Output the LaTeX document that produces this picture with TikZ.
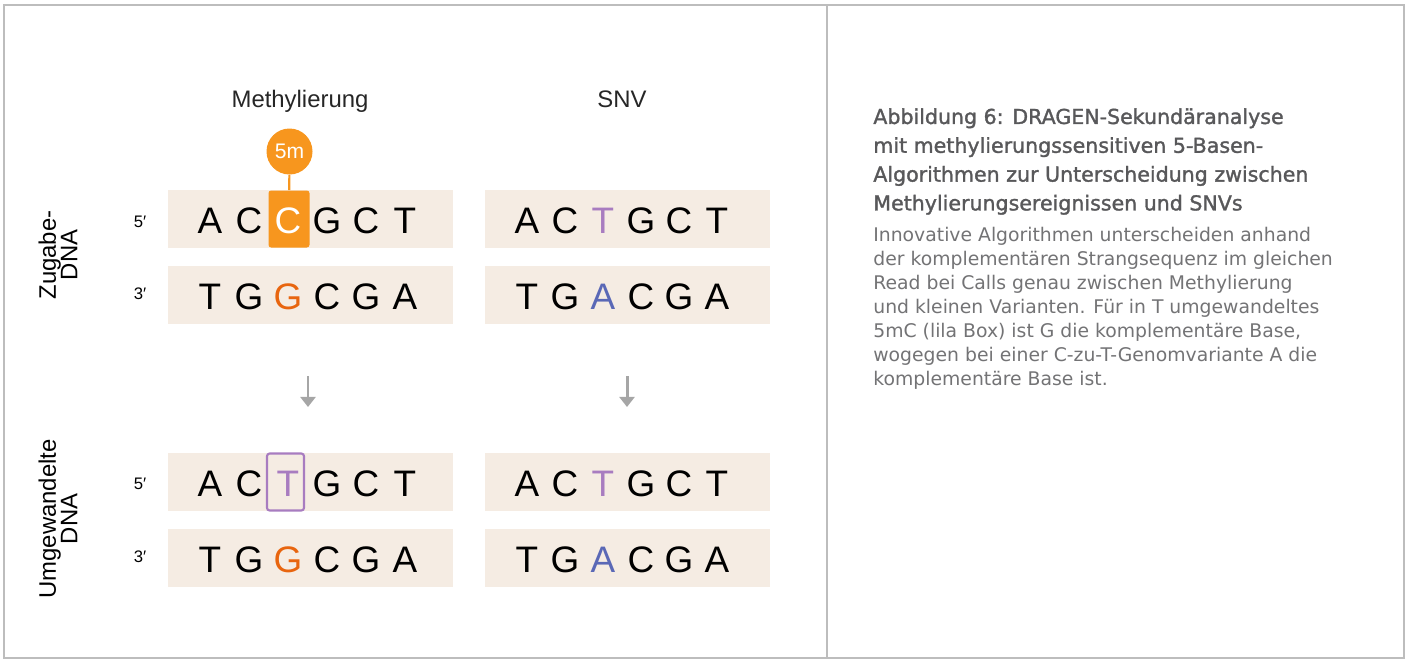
\documentclass[tikz,border=0pt]{standalone}
\usepackage{fontspec}
\setmainfont{Liberation Sans}
\newfontfamily\capfont{DejaVu Sans}[FakeBold=1.5]
\newfontfamily\descfont{DejaVu Sans}
\usetikzlibrary{calc,arrows.meta}

\definecolor{boxbg}{HTML}{F5ECE3}
\definecolor{methorange}{HTML}{F7961E}
\definecolor{darkorange}{HTML}{E8650F}
\definecolor{lila}{HTML}{A87CC0}
\definecolor{snvblue}{HTML}{5A68B6}
\definecolor{framegray}{HTML}{BDBDBD}
\definecolor{arrowgray}{HTML}{A6A6A6}
\definecolor{capgray}{HTML}{58585A}
\definecolor{descgray}{HTML}{737375}

\def\px{0.02cm}  % one pixel of the reference

\begin{document}
\begin{tikzpicture}[x=0.02cm,y=-0.02cm,
    row/.style={fill=boxbg,minimum width=285*\px,minimum height=58*\px,inner sep=0},
    nuc/.style={anchor=base,inner sep=0,font=\fontsize{21}{21}\selectfont},
    head/.style={anchor=base,inner sep=0,font=\fontsize{13.6}{13.6}\selectfont,text=black!85},
    prime/.style={inner sep=0,font=\fontsize{9.5}{9.5}\selectfont},
    side/.style={rotate=90,align=center,inner sep=0,font=\fontsize{13.6}{12.2}\selectfont},
    down/.style={-{Triangle[width=8.5pt,length=5.7pt]},line width=1.7pt,draw=arrowgray}]
  \useasboundingbox (0,0) rectangle (1410,660);

  % Frame and divider
  \draw [framegray,line width=1pt] (4,5) rectangle (1404,658);
  \draw [framegray,line width=1pt] (827,5) -- (827,658);

  % Column heads
  \node (HMeth) at (300,107) [head] {Methylierung};
  \node (HSnv) at (622,107) [head] {SNV};

  % Strand boxes
  \node (Meth5) at (310.5,219) [row] {};
  \node (Meth3) at (310.5,295) [row] {};
  \node (Snv5) at (627.5,219) [row] {};
  \node (Snv3) at (627.5,295) [row] {};
  \node (UMeth5) at (310.5,482) [row] {};
  \node (UMeth3) at (310.5,558) [row] {};
  \node (USnv5) at (627.5,482) [row] {};
  \node (USnv3) at (627.5,558) [row] {};

  % 5m marker on the methylated C
  \node (HlC) at (289,219) [fill=methorange,rounded corners=1.5pt,minimum width=41*\px,minimum height=57*\px,inner sep=0] {};
  \node (Mark) at (289.5,151.5) [circle,fill=methorange,minimum size=46*\px,inner sep=0,text=white,font=\fontsize{12}{12}\selectfont] {5m};
  \draw [methorange,line width=1.2pt] (Mark) -- (HlC);

  % converted T
  \node (HlT) at (285.5,482) [draw=lila,line width=1.2pt,rounded corners=1.5pt,minimum width=37*\px,minimum height=57*\px,inner sep=0] {};

  % Bases
  \foreach \l/\col [count=\i from 0] in {A/black,C/black,C/white,G/black,C/black,T/black}
    \node (Meth5b\i) at ($(Meth5)+(-100.5+39*\i,14)$) [nuc,text=\col] {\l};
  \foreach \l/\col [count=\i from 0] in {T/black,G/black,G/darkorange,C/black,G/black,A/black}
    \node (Meth3b\i) at ($(Meth3)+(-100.5+39*\i,14)$) [nuc,text=\col] {\l};
  \foreach \l/\col [count=\i from 0] in {A/black,C/black,T/lila,G/black,C/black,T/black}
    \node (Snv5b\i) at ($(Snv5)+(-100.5+38*\i,14)$) [nuc,text=\col] {\l};
  \foreach \l/\col [count=\i from 0] in {T/black,G/black,A/snvblue,C/black,G/black,A/black}
    \node (Snv3b\i) at ($(Snv3)+(-100.5+38*\i,14)$) [nuc,text=\col] {\l};
  \foreach \l/\col [count=\i from 0] in {A/black,C/black,T/lila,G/black,C/black,T/black}
    \node (UMeth5b\i) at ($(UMeth5)+(-100.5+39*\i,14)$) [nuc,text=\col] {\l};
  \foreach \l/\col [count=\i from 0] in {T/black,G/black,G/darkorange,C/black,G/black,A/black}
    \node (UMeth3b\i) at ($(UMeth3)+(-100.5+39*\i,14)$) [nuc,text=\col] {\l};
  \foreach \l/\col [count=\i from 0] in {A/black,C/black,T/lila,G/black,C/black,T/black}
    \node (USnv5b\i) at ($(USnv5)+(-100.5+38*\i,14)$) [nuc,text=\col] {\l};
  \foreach \l/\col [count=\i from 0] in {T/black,G/black,A/snvblue,C/black,G/black,A/black}
    \node (USnv3b\i) at ($(USnv3)+(-100.5+38*\i,14)$) [nuc,text=\col] {\l};

  % Strand ends
  \node (P5a) at (140,222) [prime] {5′};
  \node (P3a) at (140,294) [prime] {3′};
  \node (P5b) at (140,484) [prime] {5′};
  \node (P3b) at (140,557) [prime] {3′};

  % Row labels
  \node (LZug) at (58,255) [side] {Zugabe-\\DNA};
  \node (LUmg) at (58,519) [side] {Umgewandelte\\DNA};

  % Conversion arrows
  \coordinate (MA1) at (308,376);
  \coordinate (MA2) at (308,407);
  \coordinate (SA1) at (627,376);
  \coordinate (SA2) at (627,407);
  \draw [down] (MA1) -- (MA2);
  \draw [down] (SA1) -- (SA2);

  % Caption
  \node (Cap) at (873,108) [anchor=north west,inner sep=0,align=left,text=capgray,
      font=\capfont\fontsize{11.7}{16.4}\selectfont]
    {Abbildung 6: DRAGEN-Sekundäranalyse\\
     mit methylierungssensitiven 5-Basen-\\
     Algorithmen zur Unterscheidung zwischen\\
     Methylierungsereignissen und SNVs};
  \node (Desc) at ($(Cap.south west)+(0,12)$) [anchor=north west,inner sep=0,align=left,text=descgray,
      font=\descfont\fontsize{10.7}{13.6}\selectfont]
    {Innovative Algorithmen unterscheiden anhand\\
     der komplementären Strangsequenz im gleichen\\
     Read bei Calls genau zwischen Methylierung\\
     und kleinen Varianten. Für in T umgewandeltes\\
     5mC (lila Box) ist G die komplementäre Base,\\
     wogegen bei einer C-zu-T-Genomvariante A die\\
     komplementäre Base ist.};
\end{tikzpicture}
\end{document}
